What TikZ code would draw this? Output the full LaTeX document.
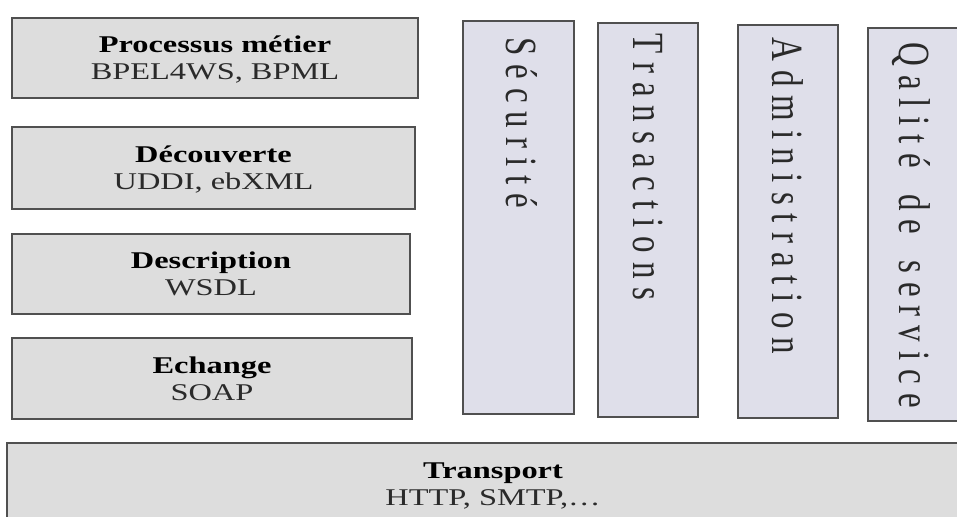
\documentclass[tikz,border=0pt]{standalone}
\usepackage{fontspec}
\setmainfont{Liberation Serif}
\usepackage{graphicx}

\definecolor{layergray}{HTML}{DDDDDD}
\definecolor{pillarfill}{HTML}{DFDFEA}
\definecolor{edgegray}{HTML}{505050}
\definecolor{ink}{HTML}{2A2A2A}

% fonts for the stacked layers and the vertical pillars
\newcommand\stackfont{\fontsize{24pt}{27pt}\selectfont}
\newcommand\pillarfont{\fontsize{33pt}{36pt}\selectfont}

% letter-spaced text for the pillars
\newlength\lettergap
\setlength\lettergap{9pt}
\def\spreadletters#1{\spreadstep#1\relax}
\def\spreadstep#1{\ifx#1\relax\else#1\kern\lettergap\expandafter\spreadstep\fi}

% two-line layer caption: bold title, plain subtitle
\newcommand\layertext[2]{\scalebox{1.35}[1]{\begin{tabular}{@{}c@{}}\textbf{#1}\\\color{ink}#2\end{tabular}}}
% vertical caption read from top to bottom
\newcommand\pillartext[1]{\scalebox{1.35}[1]{\rotatebox{-90}{\raisebox{0pt}[\height][0pt]{\pillarfont\color{ink}\spreadletters{#1}}}}}

\tikzset{
  layer/.style={draw=edgegray, line width=2pt, fill=layergray, inner sep=0pt},
  pillar/.style={draw=edgegray, line width=2pt, fill=pillarfill, inner sep=0pt},
  stacktext/.style={font=\stackfont, inner sep=0pt},
  pillarlabel/.style={anchor=north, inner sep=0pt}
}

\begin{document}
\begin{tikzpicture}[x=1pt,y=-1pt]
\useasboundingbox (0,0) rectangle (957,516);
\clip (0,0) rectangle (957,516);
\fill[white] (0,0) rectangle (957,516);

% stacked protocol layers
\node[layer, minimum width=406pt, minimum height=80pt] (proc) at (215,58) {};
\node[layer, minimum width=403pt, minimum height=82pt] (disc) at (213.5,168) {};
\node[layer, minimum width=398pt, minimum height=80pt] (desc) at (211,274) {};
\node[layer, minimum width=400pt, minimum height=81pt] (exch) at (212,378.5) {};
\node[layer, minimum width=972pt, minimum height=94pt] (trans) at (493,490) {};

\node[stacktext, yshift=-3pt] (proct) at (proc.center) {\layertext{Processus métier}{BPEL4WS, BPML}};
\node[stacktext, yshift=-3pt] (disct) at (disc.center) {\layertext{Découverte}{UDDI, ebXML}};
\node[stacktext, yshift=-3pt] (desct) at (desc.center) {\layertext{Description}{WSDL}};
\node[stacktext, yshift=-3pt] (excht) at (exch.center) {\layertext{Echange}{SOAP}};
\node[stacktext] (transt) at (493,487) {\layertext{Transport}{HTTP, SMTP,\ldots}};

% cross-cutting pillars
\node[pillar, minimum width=111pt, minimum height=393pt] (secu) at (518.5,217.5) {};
\node[pillar, minimum width=100pt, minimum height=394pt] (tran) at (648,220) {};
\node[pillar, minimum width=100pt, minimum height=393pt] (admi) at (788,221.5) {};
\node[pillar, minimum width=94pt, minimum height=393pt] (qual) at (915,224.5) {};

\node[pillarlabel] (secut) at (521.5,37) {\pillartext{Sécurité}};
\node[pillarlabel] (trant) at (648,33) {\pillartext{Transactions}};
\node[pillarlabel] (admit) at (787.5,37) {\pillartext{Administration}};
\node[pillarlabel] (qualt) at (915,42) {\pillartext{Qalité~de~service}};
\end{tikzpicture}
\end{document}
